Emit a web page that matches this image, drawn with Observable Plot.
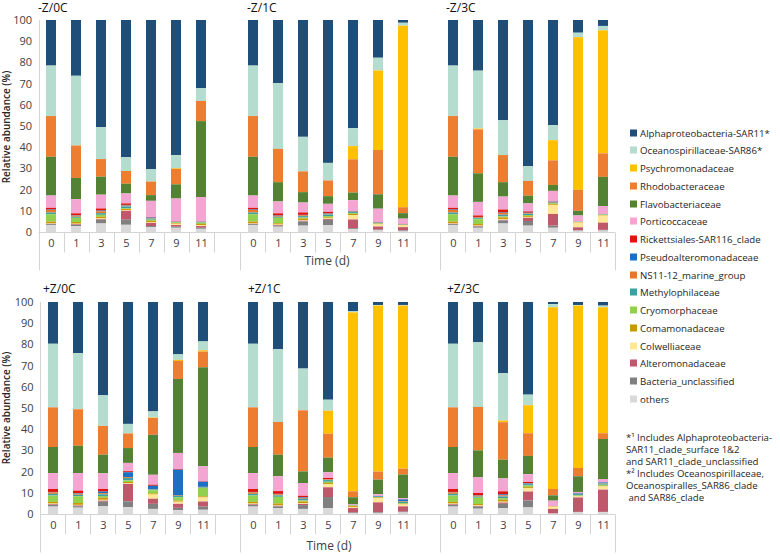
<!DOCTYPE html>
<html><head><meta charset="utf-8">
<script src="https://cdn.jsdelivr.net/npm/d3@7"></script>
<script src="https://cdn.jsdelivr.net/npm/@observablehq/plot@0.6"></script>
<style>
body{margin:0;background:#fff;font-family:"Open Sans",sans-serif;}
#root{position:relative;width:780px;height:556px;overflow:hidden;background:#fff;}
.abs{position:absolute;white-space:nowrap;}
.title{font-size:12px;color:#111;transform:translateY(-50%);line-height:14px;}
.ytitle{font-size:10px;font-weight:600;color:#262626;transform:translate(-50%,-50%) rotate(-90deg);}
.xtitle{font-size:12px;color:#404040;transform:translate(-50%,-50%);}
.leg{font-size:9.7px;color:#262626;transform:translateY(-50%);line-height:13px;}
.sw{display:inline-block;width:7px;height:7px;margin-right:3px;vertical-align:middle;position:relative;top:-1px;}
.note{font-size:9.6px;color:#262626;line-height:12px;}
</style></head><body><div id="root"></div>
<script>
const days = ["0", "1", "3", "5", "7", "9", "11"];
const families = ["Alphaproteobacteria-SAR11*", "Oceanospirillaceae-SAR86*", "Psychromonadaceae", "Rhodobacteraceae", "Flavobacteriaceae", "Porticoccaceae", "Rickettsiales-SAR116_clade", "Pseudoalteromonadaceae", "NS11-12_marine_group", "Methylophilaceae", "Cryomorphaceae", "Comamonadaceae", "Colwelliaceae", "Alteromonadaceae", "Bacteria_unclassified", "others"];
const colors = ["#1f4e79", "#b4dccf", "#ffc000", "#ed7d31", "#548235", "#f4a6d3", "#e0140c", "#1a70c4", "#e8772e", "#3fa0a4", "#92d050", "#c99700", "#ffe699", "#c0586c", "#808080", "#d9d9d9"];
const panelNames = ["-Z/0C", "-Z/1C", "-Z/3C", "+Z/0C", "+Z/1C", "+Z/3C"];
const legendNotes = ["*¹ Includes Alphaproteobacteria-", "SAR11_clade_surface 1&amp;2", "and SAR11_clade_unclassified", "*² Includes Oceanospirillaceae,", "Oceanospiralles_SAR86_clade", "&nbsp;and SAR86_clade"];

// rows: days 0,1,3,5,7,9,11 ; columns: families in legend order (% relative abundance)
const minusZ0C = [
  [21.5, 23.8, 0, 19.2, 18.3, 5.8, 0.8, 0.2, 1.2, 0.8, 3.5, 0.7, 0.3, 0.2, 0.5, 3.2],
  [26.3, 32.9, 0, 15.3, 10.0, 6.7, 0.9, 0.2, 0.5, 0.5, 2.0, 0.8, 0.2, 0.3, 0.6, 2.8],
  [50.6, 15.0, 0, 8.3, 8.5, 6.5, 1.0, 0.3, 0.9, 0.8, 0.9, 0.8, 0.3, 0.3, 1.8, 4.0],
  [64.8, 6.5, 0, 6.0, 4.6, 4.7, 0.7, 0.3, 0.4, 0.9, 0.3, 0.5, 0.4, 4.2, 2.4, 3.4],
  [70.4, 5.8, 0, 6.4, 2.7, 7.7, 0.2, 0.3, 0.2, 0.5, 0.5, 0.6, 0.4, 1.5, 0.5, 2.3],
  [63.8, 6.2, 0.3, 7.3, 6.7, 10.8, 0.1, 0.1, 0.1, 0.2, 0.2, 0.4, 0.6, 0.8, 0.5, 2.0],
  [32.1, 6.1, 0, 9.5, 35.8, 11.6, 0.1, 0.1, 0.1, 0.2, 0.6, 0.6, 0.4, 0.8, 0.5, 1.5]
];
const minusZ1C = [
  [21.5, 23.8, 0, 19.2, 18.3, 5.8, 0.8, 0.2, 1.2, 0.8, 3.5, 0.7, 0.3, 0.2, 0.5, 3.2],
  [29.8, 31.0, 0, 15.7, 9.1, 5.6, 1.0, 0.2, 0.4, 0.5, 2.6, 0.6, 0.2, 0.3, 0.5, 2.5],
  [55.1, 16.3, 0, 9.8, 4.9, 4.7, 1.1, 0.2, 0.4, 0.7, 0.4, 0.8, 0.3, 0.3, 2.0, 3.0],
  [67.4, 8.3, 0, 7.4, 3.6, 3.8, 0.7, 0.2, 0.3, 0.8, 0.6, 0.5, 0.3, 0.4, 2.5, 3.2],
  [51.0, 8.5, 6.2, 15.7, 3.6, 5.1, 0.1, 0.2, 0.2, 0.5, 0.4, 0.6, 2.0, 4.1, 0.5, 1.3],
  [17.8, 6.0, 37.5, 20.9, 6.8, 6.3, 0.1, 0.2, 0.1, 0.2, 0.2, 0.3, 1.0, 1.5, 0.3, 0.8],
  [1.3, 1.4, 85.6, 2.8, 2.6, 2.5, 0.1, 0.1, 0.1, 0.1, 0.1, 0.2, 0.8, 1.6, 0.2, 0.5]
];
const minusZ3C = [
  [21.5, 23.8, 0, 19.2, 18.3, 5.8, 0.8, 0.2, 1.2, 0.8, 3.5, 0.7, 0.3, 0.2, 0.5, 3.2],
  [23.9, 27.3, 0.4, 20.7, 13.5, 6.4, 0.7, 0.2, 0.4, 0.5, 2.2, 0.7, 0.2, 0.3, 0.6, 2.0],
  [47.3, 16.4, 0, 12.8, 6.8, 6.1, 1.4, 0.2, 0.8, 0.8, 0.5, 0.9, 0.3, 0.3, 1.4, 4.0],
  [69.0, 6.9, 0, 7.0, 3.6, 3.8, 0.6, 0.2, 0.3, 0.6, 0.5, 0.4, 0.4, 1.5, 2.2, 3.0],
  [49.6, 7.1, 9.5, 11.6, 2.8, 5.0, 0.1, 0.4, 0.2, 0.2, 0.3, 0.4, 4.3, 5.5, 1.0, 2.0],
  [6.0, 2.1, 72.0, 9.9, 2.2, 2.9, 0, 0, 0, 0.1, 0.2, 0.2, 2.2, 1.4, 0.2, 0.6],
  [2.8, 2.1, 58.0, 11.1, 13.8, 3.7, 0, 0.1, 0.1, 0.1, 0.3, 0.2, 3.3, 3.4, 0.3, 0.7]
];
const plusZ0C = [
  [19.7, 30.0, 0, 18.7, 12.3, 7.5, 1.4, 0.2, 0.7, 0.8, 3.0, 0.8, 0.3, 0.3, 0.8, 3.5],
  [24.1, 26.5, 0, 17.2, 12.9, 8.3, 1.1, 0.3, 0.5, 0.7, 3.2, 0.9, 0.3, 0.3, 0.7, 3.0],
  [44.0, 14.5, 0, 13.5, 8.8, 7.4, 1.2, 0.8, 0.5, 0.8, 0.8, 1.0, 0.4, 0.5, 2.2, 3.6],
  [57.5, 4.5, 0, 6.9, 7.0, 3.9, 0.5, 2.3, 0.4, 1.1, 0.8, 0.5, 0.4, 8.2, 2.8, 3.2],
  [51.6, 2.9, 0.2, 7.9, 18.9, 4.7, 0.5, 1.5, 0.2, 0.4, 1.5, 0.5, 2.0, 2.4, 2.4, 2.4],
  [24.7, 2.6, 0.5, 8.5, 34.9, 7.6, 0.3, 12.2, 0.2, 0.6, 1.6, 0.5, 1.0, 1.9, 1.1, 1.8],
  [18.6, 4.2, 0.6, 7.4, 46.7, 7.1, 0.2, 2.4, 0.2, 0.3, 4.0, 0.5, 1.9, 2.4, 1.5, 2.0]
];
const plusZ1C = [
  [19.7, 30.0, 0, 18.7, 12.3, 7.5, 1.4, 0.2, 0.7, 0.8, 3.0, 0.8, 0.3, 0.3, 0.8, 3.5],
  [22.2, 34.4, 0, 15.4, 10.2, 7.0, 1.3, 0.2, 0.5, 0.7, 3.1, 0.8, 0.3, 0.3, 0.8, 2.8],
  [31.4, 19.7, 0, 28.8, 5.5, 6.0, 0.7, 0.3, 0.4, 0.8, 0.5, 0.9, 0.3, 0.5, 1.8, 2.4],
  [46.1, 5.2, 10.8, 11.3, 6.9, 2.7, 0.5, 0.2, 0.3, 0.8, 0.6, 0.5, 1.5, 4.6, 5.2, 2.8],
  [4.4, 0.5, 84.4, 2.8, 3.2, 0.4, 0, 0.1, 0.1, 0.1, 0.3, 0.4, 0.5, 2.1, 0.3, 0.4],
  [1.4, 0.3, 78.3, 3.8, 6.9, 0.8, 0, 0.3, 0, 0.2, 0.2, 0.3, 2.0, 4.7, 0.3, 0.5],
  [1.4, 0.3, 76.9, 2.8, 11.1, 0.5, 0.1, 0.8, 0.3, 0.6, 0.4, 0.3, 0.9, 2.5, 0.3, 0.8]
];
const plusZ3C = [
  [19.7, 30.0, 0, 18.7, 12.3, 7.5, 1.4, 0.2, 0.7, 0.8, 3.0, 0.8, 0.3, 0.3, 0.8, 3.5],
  [19.0, 30.5, 0, 20.5, 12.7, 7.4, 1.1, 0.2, 0.4, 0.5, 3.0, 0.6, 0.3, 0.3, 1.0, 2.5],
  [33.6, 22.3, 0.8, 17.7, 8.8, 6.1, 1.4, 0.5, 0.5, 0.8, 0.8, 0.9, 0.4, 0.6, 2.0, 2.8],
  [43.7, 5.0, 13.2, 10.7, 8.6, 3.7, 0.5, 0.3, 0.2, 0.7, 0.6, 0.5, 1.7, 4.2, 3.3, 3.1],
  [1.0, 1.5, 85.7, 3.0, 2.5, 2.7, 0, 0, 0, 0, 0, 0.2, 1.0, 2.2, 0, 0.2],
  [1.4, 0.3, 76.6, 3.9, 7.4, 0.6, 0, 0.3, 0.1, 0.6, 0.3, 0.2, 0.5, 6.8, 0.2, 0.8],
  [1.7, 0.8, 59.4, 2.7, 18.9, 1.6, 0, 0.4, 0.2, 0.5, 0.5, 0.3, 1.5, 10.5, 0.1, 0.9]
];
const panelData = [minusZ0C, minusZ1C, minusZ3C, plusZ0C, plusZ1C, plusZ3C];

const root = document.getElementById("root");
const bottomUp = [...families].reverse();

function addDiv(cls, html, left, top, extra) {
  const d = document.createElement("div");
  d.className = "abs " + cls;
  d.innerHTML = html;
  d.style.left = left + "px";
  d.style.top = top + "px";
  if (extra) Object.assign(d.style, extra);
  root.appendChild(d);
  return d;
}

function axisLines(cfg) {
  return (index, scales, values, dim) => {
    const g = d3.create("svg:g").attr("stroke", "#d4d4d4").attr("stroke-width", 1).attr("fill", "none");
    const y0 = Math.round(dim.height - dim.marginBottom) + 0.5;
    const x0 = dim.marginLeft, x1 = dim.width - dim.marginRight;
    const step = (x1 - x0) / days.length;
    g.append("line").attr("x1", x0).attr("x2", cfg.last ? x1 : dim.width).attr("y1", y0).attr("y2", y0);
    for (let i = 0; i <= days.length; i++) {
      const x = Math.round(x0 + i * step) + 0.5;
      const long = i === 0 || (i === days.length && cfg.last);
      g.append("line").attr("x1", x).attr("x2", x).attr("y1", y0).attr("y2", y0 + (long ? 38 : 20));
      if (i === 0 && cfg.yAxis) g.append("line").attr("x1", x).attr("x2", x).attr("y1", dim.marginTop).attr("y2", y0);
    }
    return g.node();
  };
}

function panel(rows, cfg) {
  const data = [];
  rows.forEach((r, i) => r.forEach((v, j) => data.push({day: days[i], family: families[j], value: v})));
  return Plot.plot({
    width: cfg.width, height: 272,
    marginLeft: cfg.ml, marginRight: cfg.width - cfg.ml - 175, marginTop: 20, marginBottom: 40,
    style: {fontFamily: "Open Sans, sans-serif", fontSize: "11px", color: "#404040", background: "none", overflow: "visible"},
    x: {domain: days, paddingInner: 0.6, paddingOuter: 0.3, tickSize: 0, tickPadding: 7, label: null},
    y: {domain: [0, 1], ticks: 10, tickSize: 0, tickPadding: 7, tickFormat: d => Math.round(d * 100), label: null, axis: cfg.yAxis ? "left" : null},
    color: {domain: families, range: colors},
    marks: [
      axisLines(cfg),
      Plot.barY(data, Plot.stackY({offset: "normalize", order: bottomUp}, {x: "day", y: "value", fill: "family"}))
    ]
  });
}

const cols = [
  {left: 0, width: 240, yAxis: true, last: false},
  {left: 230, width: 210, ml: 10, yAxis: false, last: false},
  {left: 430, width: 195, ml: 10, yAxis: false, last: true}
];
const rowTops = [0, 282];
const firstMl = [38.5, 40];
const titlePos = [[38, 7.5], [247, 7.5], [446, 7.5], [43, 289], [248, 289], [447, 289]];

panelData.forEach((rows, k) => {
  const r = Math.floor(k / 3), c = k % 3;
  const col = cols[c];
  const cfg = {...col, ml: c === 0 ? firstMl[r] : col.ml};
  const svg = panel(rows, cfg);
  const wrap = addDiv("", "", col.left, rowTops[r], {width: col.width + "px", height: "272px"});
  wrap.appendChild(svg);
  addDiv("title", panelNames[k], titlePos[k][0], titlePos[k][1]);
});

addDiv("ytitle", "Relative abundance (%)", 6, 127);
addDiv("ytitle", "Relative abundance (%)", 6, 408);
addDiv("xtitle", "Time (d)", 327, 260);
addDiv("xtitle", "Time (d)", 329, 545);

families.forEach((f, i) => {
  addDiv("leg", `<span class="sw" style="background:${colors[i]}"></span>${f}`, 630, 132.7 + i * 17.75);
});

addDiv("note", legendNotes.join("<br>"), 626, 432.3);
</script></body></html>
